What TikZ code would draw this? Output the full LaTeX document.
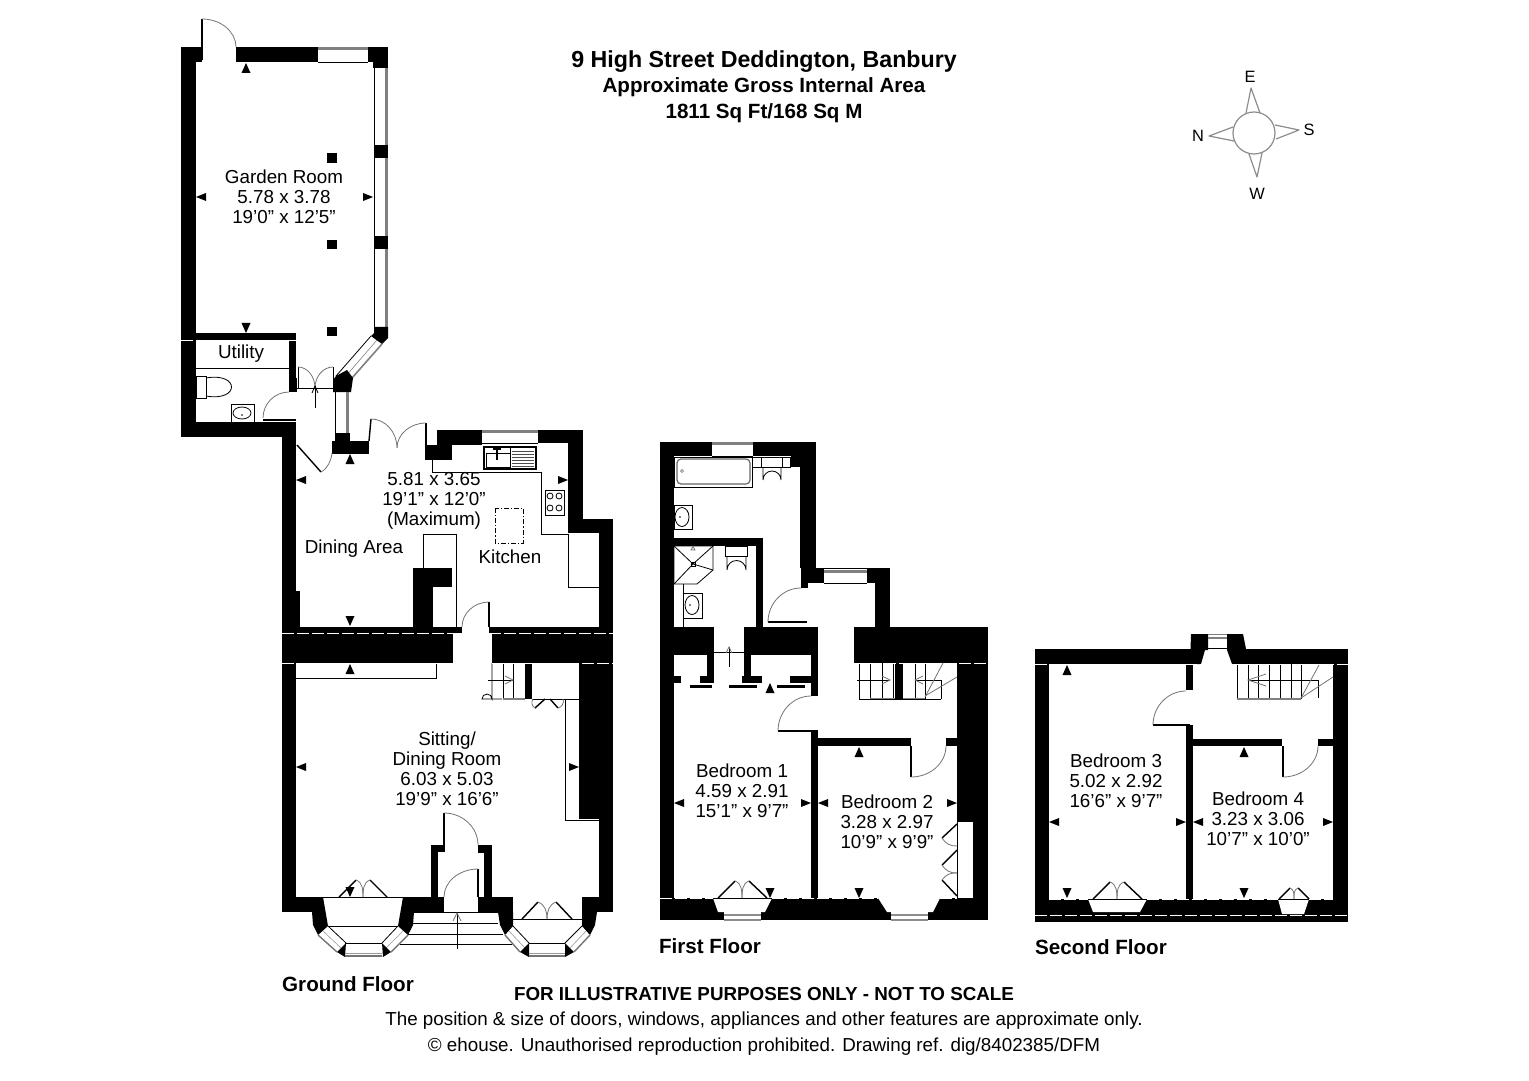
\documentclass[tikz,border=0pt]{standalone}
\usepackage{fontspec}
\setmainfont{Liberation Sans}
\usetikzlibrary{calc}
\tikzset{
  wall/.style={fill=black,draw=none},
  thinl/.style={draw=black,line width=0.4pt},
  arcl/.style={draw=black!55,line width=0.4pt},
  leaf/.style={draw=black,line width=0.7pt},
  thickleaf/.style={draw=black,line width=1pt},
  seam/.style={draw=white,line width=0.25pt,dash pattern=on 6pt off 1.5pt},
  glass/.style={fill=white,draw=none},
  band/.style={fill=black!50,draw=none},
  label/.style={align=center,font=\fontsize{9.4}{10}\selectfont,inner sep=0pt},
  floorname/.style={font=\fontsize{10.3}{12}\selectfont\bfseries,inner sep=0pt},
  note/.style={font=\fontsize{9.4}{12}\selectfont,inner sep=0pt},
  comp/.style={draw=black!45,line width=0.6pt,line join=round},
  compl/.style={font=\fontsize{8.2}{10}\selectfont,inner sep=0pt},
}
\newcommand{\wl}[4]{\fill[wall] (#1,#2) rectangle (#3,#4);}
\newcommand{\tU}[2]{\fill[shift={(#1,#2)}] (0,0)--(-4.5,10)--(4.5,10)--cycle;}
\newcommand{\tD}[2]{\fill[shift={(#1,#2)}] (0,0)--(-4.5,-10)--(4.5,-10)--cycle;}
\newcommand{\tL}[2]{\fill[shift={(#1,#2)}] (0,0)--(10,-4)--(10,4)--cycle;}
\newcommand{\tR}[2]{\fill[shift={(#1,#2)}] (0,0)--(-10,-4)--(-10,4)--cycle;}
% door swing: a = free end of leaf, b = jamb, c = hinge
\newcommand{\swing}[3]{\draw[arcl] (#1) .. controls ($(#1)+0.55*(#2)-0.55*(#3)$) and ($(#2)+0.55*(#1)-0.55*(#3)$) .. (#2);}
% folding double door: xL, xR, xM, ybase, peak y, peakL x, peakR x
\newcommand{\fold}[7]{%
  \draw[leaf] (#1,#4)--(#6,#5); \draw[leaf] (#2,#4)--(#7,#5);
  \draw[arcl] (#6,#5) to[out=-20,in=90] (#3,#4);
  \draw[arcl] (#7,#5) to[out=200,in=90] (#3,#4);}
\begin{document}
\begin{tikzpicture}[x=0.5pt,y=-0.5pt]
\useasboundingbox (0,0) rectangle (1529,1080);

%%% ================= GARDEN ROOM ==================
\wl{181}{47}{196}{437}
\wl{181}{47}{202}{62}
\wl{236}{47}{318}{62}
\wl{368}{47}{388}{62}
\wl{373}{62}{388}{68}
\fill[band] (318,47) rectangle (368,50);
\draw[thinl] (318,62)--(368,62);
% east window
\fill[band] (385,68) rectangle (388,327);
\draw[thinl] (374,62)--(374,327);
\wl{374}{145}{388}{158}
\wl{374}{236}{388}{249}
\fill[wall] (374,327)--(388,327)--(388,338)--(382,344)--(371,336)--(374,333)--cycle;
% diagonal window
\draw[thinl] (371,336)--(336,376);
\draw[band,draw=black!50,line width=0.8pt] (382,344)--(352,378);
\draw[draw=black!50,line width=0.3pt] (377,340)--(345,377);
\fill[wall] (336,376)--(347,370)--(353,378)--(351,392)--(333,392)--(333,380)--cycle;
% pillars
\wl{327}{153}{337}{163}
\wl{327}{240}{337}{249}
\wl{327}{327}{337}{336}
% garden door
\draw[leaf] (202,19)--(202,60);
\swing{202,19}{236,47}{202,47}
%%% utility
\wl{181}{333}{296}{340}
\wl{289}{333}{296}{392}
\wl{181}{422}{296}{437}
\wl{282}{437}{296}{627}
\wl{289}{378}{297}{392}
\draw[thinl] (196,368)--(289,368);
\draw[thinl] (196,376) rectangle (206,398);
\draw[thinl] (206,378) .. controls (240,372) and (240,402) .. (206,396);
\draw[thinl] (231,404) rectangle (254,422);
\draw[thinl] (242,413) ellipse (9 and 6);
\fill (242,415) circle (0.8);
\draw[thickleaf] (263,420)--(296,420);
\swing{263,418}{289,392}{289,418}
% french doors to garden room
\draw[thinl] (297,388)--(333,388);
\draw[thinl] (298,367)--(298,388);
\draw[thinl] (333,367)--(333,388);
\swing{298,367}{315,388}{298,388}
\swing{333,367}{315,388}{333,388}
\draw[thinl] (315,408)--(315,386);
\draw[thinl] (312,393)--(315,386)--(318,393);
% small window below
\fill[band] (346,392) rectangle (349,433);
\draw[thinl] (335,392)--(335,433);
\wl{335}{433}{350}{442}
\wl{332}{441}{369}{454}

%%% ================= KITCHEN ==================
\draw[leaf] (371,419)--(369,441);
\draw[leaf] (426,423)--(426,445);
\swing{371,419}{397,448}{371,448}
\swing{426,423}{397,448}{426,448}
\wl{425}{445}{452}{460}
\wl{437}{430}{482}{445}
\wl{482}{430}{538}{433}
\fill[band] (482,430) rectangle (538,433);
\draw[thinl] (482,443)--(538,443);
\wl{538}{430}{583}{443}
\wl{568}{443}{583}{520}
\wl{568}{519}{613}{533}
\wl{599}{533}{613}{627}
\draw[thinl] (432,460)--(432,472)--(541,472)--(541,534)--(568,534);
\draw[thinl] (568,534)--(568,587)--(599,587);
% sink
\draw[thinl,line width=0.6pt] (484,447) rectangle (536,469);
\draw[thinl] (486,453) rectangle (510,467);
\draw[thinl] (510,447)--(510,469);
\foreach \yy in {451,454,457,460,463,466} {\draw[draw=black!70,line width=0.35pt] (512,\yy)--(534,\yy);}
\draw[thinl,line width=0.7pt] (497,448)--(497,460);
\draw[thinl,line width=0.7pt] (493,449)--(501,449);
% hob
\draw[thinl] (545,490) rectangle (564,515);
\foreach \xx/\yy in {550/496,559/496,550/508,559/508} {\draw[thinl] (\xx,\yy) circle (3);}
% island
\draw[thinl,dash pattern=on 2.5pt off 1pt on 0.6pt off 1pt] (495,508) rectangle (523,543);
% chimney breast
\draw[thinl] (423,568)--(423,534)--(456,534)--(456,627);
\wl{413}{568}{452}{587}
\wl{413}{587}{433}{627}
\wl{296}{591}{300}{627}
% main ground wall
\wl{282}{627}{462}{633}
\wl{282}{633}{453}{663}
\wl{489}{627}{613}{633}
\wl{492}{633}{613}{663}
\draw[leaf] (489,602)--(489,627);
\swing{489,602}{462,627}{489,627}
% kitchen west door
\draw[leaf] (297,445)--(321,472);
\draw[arcl] (321,472) .. controls (328,468) and (331,461) .. (332,453);

%%% ================= SITTING ROOM ==================
\wl{282}{663}{296}{912}
\draw[thinl] (296,678)--(436,678)--(436,663);
\wl{579}{663}{613}{819}
\wl{599}{819}{613}{912}
\draw[thinl] (565,699)--(565,820)--(599,820);
\draw[thinl] (532,699)--(579,699);
\wl{525}{663}{532}{699}
% stairs
\draw[thinl] (492,663)--(492,699) arc (180:0:-5 and -5) -- (502,699);
\draw[thinl] (503,663)--(503,699);
\draw[thinl] (513,663)--(513,699);
\draw[draw=black!50,line width=0.8pt] (503,699)--(525,699);
\draw[thinl] (488,680)--(513,680);
\draw[arcl] (505,676)--(513,680)--(505,684);
% cupboard doors
\draw[leaf] (535,708)--(545,699);
\draw[leaf] (558,708)--(550,699);
\draw[arcl] (533,699) to[bend right=50] (535,708);
\draw[arcl] (563,699) to[bend left=50] (558,708);
% south wall pieces
\wl{282}{897}{323}{912}
\wl{403}{897}{444}{912}
\wl{478}{897}{513}{912}
\wl{582}{897}{613}{912}
% porch
\wl{431}{845}{445}{852}
\wl{431}{852}{438}{897}
\wl{478}{845}{492}{853}
\wl{484}{853}{492}{897}
\draw[leaf,line width=1pt] (444,813)--(444,846);
\swing{444,813}{478,845}{444,845}
\draw[leaf,line width=1pt] (478,869)--(478,897);
\swing{478,869}{444,897}{478,897}
\draw[thinl] (444,912)--(478,912);
% left bay
\draw[thinl] (323,897)--(403,897);
\draw[thinl] (328,926)--(398,926);
\fill[wall] (312,912)--(323,897)--(328,926)--(318,935)--(313,925)--cycle;
\fill[wall] (414,912)--(403,897)--(398,926)--(408,935)--(413,925)--cycle;
\draw[thinl] (328,926)--(346,943);
\draw[draw=black!55,line width=0.7pt] (318,935)--(337,952);
\draw[draw=black!40,line width=0.3pt] (323,931)--(341,948);
\draw[thinl] (398,926)--(382,943);
\draw[draw=black!55,line width=0.7pt] (408,935)--(391,952);
\draw[draw=black!40,line width=0.3pt] (403,931)--(386,948);
\fill[wall] (346,943)--(337,952)--(345,957)--cycle;
\fill[wall] (382,943)--(391,952)--(383,957)--cycle;
\draw[thinl] (345,943)--(382,943);
\draw[draw=black!55,line width=0.7pt] (345,956)--(382,956);
\draw[draw=black!40,line width=0.3pt] (345,953)--(382,953);
\fold{339}{387}{363}{897}{880}{356}{370}
% right bay
\fill[wall] (498,912)--(513,912)--(513,926)--(505,935)--(500,925)--cycle;
\fill[wall] (597,912)--(582,912)--(582,926)--(590,935)--(595,925)--cycle;
\draw[thinl] (513,919)--(582,919);
\draw[thinl] (513,926)--(529,943);
\draw[draw=black!55,line width=0.7pt] (505,935)--(520,952);
\draw[draw=black!40,line width=0.3pt] (509,931)--(525,948);
\draw[thinl] (582,926)--(565,943);
\draw[draw=black!55,line width=0.7pt] (590,935)--(574,952);
\draw[draw=black!40,line width=0.3pt] (586,931)--(570,948);
\fill[wall] (529,943)--(520,952)--(529,957)--cycle;
\fill[wall] (565,943)--(574,952)--(565,957)--cycle;
\draw[thinl] (529,943)--(565,943);
\draw[draw=black!55,line width=0.7pt] (529,956)--(565,956);
\draw[draw=black!40,line width=0.3pt] (529,953)--(565,953);
\fold{522}{572}{547}{919}{902}{538}{556}
% entrance steps
\draw[thinl] (414,912)--(498,912);
\draw[thinl] (413,923)--(498,923);
\draw[thinl] (408,934)--(503,934);
\draw[thinl] (400,944)--(512,944);
\draw[thinl] (457,949)--(457,913);
\draw[arcl] (453,921)--(457,913)--(461,921);

%%% ================= FIRST FLOOR ==================
\wl{660}{442}{674}{920}
\wl{660}{442}{712}{456}
\wl{753}{442}{816}{456}
\fill[band] (712,442) rectangle (753,445);
\draw[thinl] (712,456)--(753,456);
\wl{791}{456}{816}{467}
\wl{800}{456}{816}{568}
\wl{801}{568}{824}{583}
\wl{801}{583}{808}{588}
\fill[band] (824,570) rectangle (867,573);
\draw[thinl] (824,568)--(867,568);
\draw[thinl] (824,583)--(867,583);
\wl{867}{568}{890}{583}
\wl{875}{583}{890}{627}
\wl{854}{627}{988}{663}
\wl{957}{663}{988}{821}
\wl{973}{821}{988}{898}
\wl{660}{898}{988}{920}
% bays first floor
\fill[white] (713,898)--(772,898)--(765,912)--(718,912)--cycle;
\fill[white] (724,912) rectangle (761,920);
\draw[draw=black!45,line width=0.6pt] (724,915)--(761,915) (724,920)--(761,920);
\fill[white] (878,898)--(940,898)--(933,912)--(887,912)--cycle;
\fill[white] (891,912) rectangle (928,920);
\draw[draw=black!45,line width=0.6pt] (891,915)--(928,915) (891,920)--(928,920);
\draw[thinl] (713,898)--(772,898);
\draw[thinl] (957,821)--(973,821) (957,821)--(957,898) (957,898)--(973,898);
% shower room walls
\wl{660}{538}{763}{546}
\wl{756}{546}{763}{627}
\wl{660}{627}{714}{655}
\wl{744}{627}{818}{655}
\wl{707}{655}{714}{677}
\wl{744}{655}{751}{677}
\wl{811}{627}{818}{696}
\wl{660}{676}{681}{683}
\wl{700}{676}{714}{683}
\wl{742}{676}{762}{683}
\wl{790}{676}{818}{683}
\fill (690,685) rectangle (712,687.5);
\fill (729,685) rectangle (757,687.5);
\fill (777,685) rectangle (805,687.5);
\draw[thinl] (714,652)--(744,652);
\draw[thinl] (729,667)--(729,647);
\draw[arcl] (726,653)--(729,647)--(732,653);
% door to bathroom landing
\draw[draw=black,line width=1.2pt] (768,622)--(807,622);
\swing{768,622}{801,588}{801,622}
% bath
\draw[thinl] (674,457) rectangle (752,487);
\draw[draw=black!60,line width=0.6pt,rounded corners=2pt] (677,459) rectangle (750,484);
\draw[draw=black!60,line width=0.3pt] (682,471) circle (1.5);
\draw[thinl] (752,457) rectangle (790,467);
\draw[thinl] (761,457)--(761,467) (782,457)--(782,467);
\draw[thinl] (763,467)--(763,480) arc (180:360:9 and 9) -- (781,467);
% basin
\draw[thinl] (674,505) rectangle (692,529);
\draw[thinl] (682,517) ellipse (7 and 9.5);
\fill (680,517) circle (0.8);
% shower
\draw[thinl] (674,546)--(713,546)--(713,570)--(697,584)--(674,584)--cycle;
\draw[thinl] (674,546)--(693,564)--(713,546) (674,584)--(693,564)--(713,570);
\draw[thinl] (691,562) rectangle (695,566);
\draw[arcl] (691,550)--(693,546.5)--(695,550)--cycle;
% wc 2
\draw[thinl] (725,546) rectangle (747,556);
\draw[thinl] (727,556)--(727,570) arc (180:360:9.5 and 9.5) -- (746,556);
% basin 2
\draw[thinl] (683,584)--(683,627);
\draw[thinl] (683,593) rectangle (702,618);
\draw[thinl] (692,605) ellipse (7 and 9.5);
\fill (690,605) circle (0.8);
% bedroom 1 door
\wl{811}{730}{818}{898}
\draw[draw=black,line width=1.2pt] (778,731)--(818,731);
\swing{778,731}{811,696}{811,731}
% bedroom 2 walls
\wl{811}{738}{911}{746}
\wl{946}{738}{957}{746}
\draw[leaf,line width=0.9pt] (911,746)--(911,777);
\swing{911,777}{946,746}{911,746}
% closet doors
\draw[leaf] (957,824)--(942,838);
\draw[leaf] (957,850)--(942,865);
\draw[leaf] (957,896)--(942,880);
\draw[arcl] (942,838) to[bend right=30] (957,846);
\draw[arcl] (942,865) to[bend right=30] (957,873);
\draw[arcl] (942,880) to[bend left=30] (957,873);
% french bed 1
\fold{718}{767}{742}{898}{881}{735}{749}
% stairs first floor
\foreach \xx in {859,870,882,893,915,925} {\draw[thinl] (\xx,663)--(\xx,699);}
\wl{895}{663}{903}{699}
\draw[draw=black!50,line width=0.8pt] (870,699)--(895,699) (903,699)--(925,699);
\draw[thinl] (859,699)--(941,699);
\draw[thinl] (857,680)--(890,680);
\draw[arcl] (882,676)--(890,680)--(882,684);
\draw[thinl] (915,680)--(941,680)--(941,699);
\draw[arcl] (923,676)--(915,680)--(923,684);
\draw[arcl] (925,697)--(943,663);
\draw[arcl] (925,696)--(957,677);

%%% ================= SECOND FLOOR ==================
\wl{1035}{649}{1201}{664}
\wl{1232}{649}{1348}{664}
\wl{1191}{634}{1205}{649}
\fill[wall] (1191,634)--(1208,634)--(1208,650)--(1205,650)--(1201,664)--(1190,664)--cycle;
\fill[wall] (1227,634)--(1243,634)--(1246,649)--(1240,664)--(1232,664)--(1227,650)--cycle;
\draw[draw=black!50,line width=0.6pt] (1208,634.5)--(1227,634.5) (1208,638)--(1227,638);
\draw[thinl] (1208,648)--(1227,648);
\wl{1035}{664}{1049}{922}
\wl{1333}{664}{1348}{922}
\wl{1035}{899}{1348}{922}
\fill[white] (1088,899)--(1147,899)--(1140,912)--(1093,912)--cycle;
\fill[white] (1278,899)--(1309,899)--(1304,914)--(1282,914)--cycle;
\draw[thinl] (1088,899)--(1147,899) (1278,899)--(1309,899);
\wl{1186}{664}{1193}{690}
\wl{1186}{725}{1193}{899}
\draw[draw=black,line width=1.2pt] (1153,725)--(1190,725);
\swing{1153,725}{1186,691}{1186,725}
\wl{1186}{739}{1282}{746}
\wl{1318}{739}{1333}{746}
\draw[leaf,line width=0.9pt] (1283,746)--(1283,777);
\swing{1283,777}{1318,746}{1283,746}
\foreach \xx in {1237,1248,1258,1269,1280,1291,1301} {\draw[thinl] (\xx,664)--(\xx,699);}
\draw[draw=black!50,line width=0.8pt] (1237,699)--(1301,699);
\draw[thinl] (1248,680)--(1318,680)--(1318,698);
\draw[arcl] (1266,674)--(1248,680)--(1266,686);
\draw[arcl] (1301,698)--(1319,665);
\draw[arcl] (1301,698)--(1333,677);
\fold{1093}{1142}{1117}{899}{882}{1110}{1124}
\fold{1279}{1309}{1294}{899}{888}{1290}{1298}

%%% wall seams
\draw[seam] (282,633)--(462,633);
\draw[seam] (489,633)--(613,633);
\draw[seam] (282,663)--(453,663);
\draw[seam] (492,663)--(613,663);
\draw[seam] (181,340)--(296,340);
\draw[seam] (660,898)--(713,898) (772,898)--(878,898) (940,898)--(957,898);
\draw[seam] (854,663)--(988,663);
\draw[seam] (1035,664)--(1201,664) (1232,664)--(1348,664);
\draw[seam] (1049,899)--(1088,899) (1147,899)--(1278,899) (1309,899)--(1333,899);
\draw[seam] (1035,915)--(1348,915);

%%% dimension markers
\tU{246}{63} \tL{196}{197} \tR{373}{197} \tD{246}{333}
\tU{350}{454} \tL{296}{480} \tR{568}{480} \tD{350}{626}
\tU{350}{664} \tL{296}{767} \tR{579}{767} \tD{350}{897}
\tU{770}{683} \tL{674}{803} \tR{811}{803} \tD{770}{898}
\tL{818}{803} \tR{957}{803} \tU{859}{747} \tD{859}{898}
\tU{1067}{665} \tD{1067}{898} \tL{1049}{822} \tR{1186}{822}
\tL{1193}{822} \tR{1333}{822} \tU{1244}{747} \tD{1244}{898}

%%% compass
\draw[comp] (1254,133) circle (21);
\draw[comp] (1246,113)--(1251,88)--(1260,113);
\draw[comp] (1275,125)--(1299,130)--(1276,139);
\draw[comp] (1249,154)--(1257,177)--(1262,153);
\draw[comp] (1233,127)--(1209,136)--(1234,141);
\node[compl] (cE) at (1250,77) {E};
\node[compl] (cS) at (1309,130) {S};
\node[compl] (cW) at (1257,194) {W};
\node[compl] (cN) at (1198,136) {N};

%%% texts
\node[font=\fontsize{11.6}{13}\selectfont\bfseries,inner sep=0pt] (t1) at (764,62) {9 High Street Deddington, Banbury};
\node[font=\fontsize{10.3}{13}\selectfont\bfseries,inner sep=0pt] (t2) at (764,87) {Approximate Gross Internal Area};
\node[font=\fontsize{10.3}{13}\selectfont\bfseries,inner sep=0pt] (t3) at (764,113) {1811 Sq Ft/168 Sq M};

\node[label] (garden) at (284,197) {Garden Room\\5.78 x 3.78\\19'0" x 12'5"};
\node[label] (utility) at (241,354) {Utility};
\node[label] (kitdim) at (434,501) {5.81 x 3.65\\19'1" x 12'0"\\(Maximum)};
\node[label] (dining) at (354,549) {Dining Area};
\node[label] (kitchen) at (510,557) {Kitchen};
\node[label] (sitting) at (447,769) {Sitting/\\Dining Room\\6.03 x 5.03\\19'9" x 16'6"};
\node[label] (bed1) at (742,791) {Bedroom 1\\4.59 x 2.91\\15'1" x 9'7"};
\node[label] (bed2) at (887,822) {Bedroom 2\\3.28 x 2.97\\10'9" x 9'9"};
\node[label] (bed3) at (1116,781) {Bedroom 3\\5.02 x 2.92\\16'6" x 9'7"};
\node[label] (bed4) at (1258,819) {Bedroom 4\\3.23 x 3.06\\10'7" x 10'0"};

\node[floorname] (gf) at (348,984) {Ground Floor};
\node[floorname] (ff) at (710,946) {First Floor};
\node[floorname] (sf) at (1101,947) {Second Floor};

\node[note,font=\fontsize{9.4}{12}\selectfont\bfseries] (n1) at (764,994) {FOR ILLUSTRATIVE PURPOSES ONLY - NOT TO SCALE};
\node[note] (n2) at (764,1021) {The position \& size of doors, windows, appliances and other features are approximate only.};
\node[note] (n3) at (764,1047) {© ehouse. Unauthorised reproduction prohibited. Drawing ref. dig/8402385/DFM};
\end{tikzpicture}
\end{document}
